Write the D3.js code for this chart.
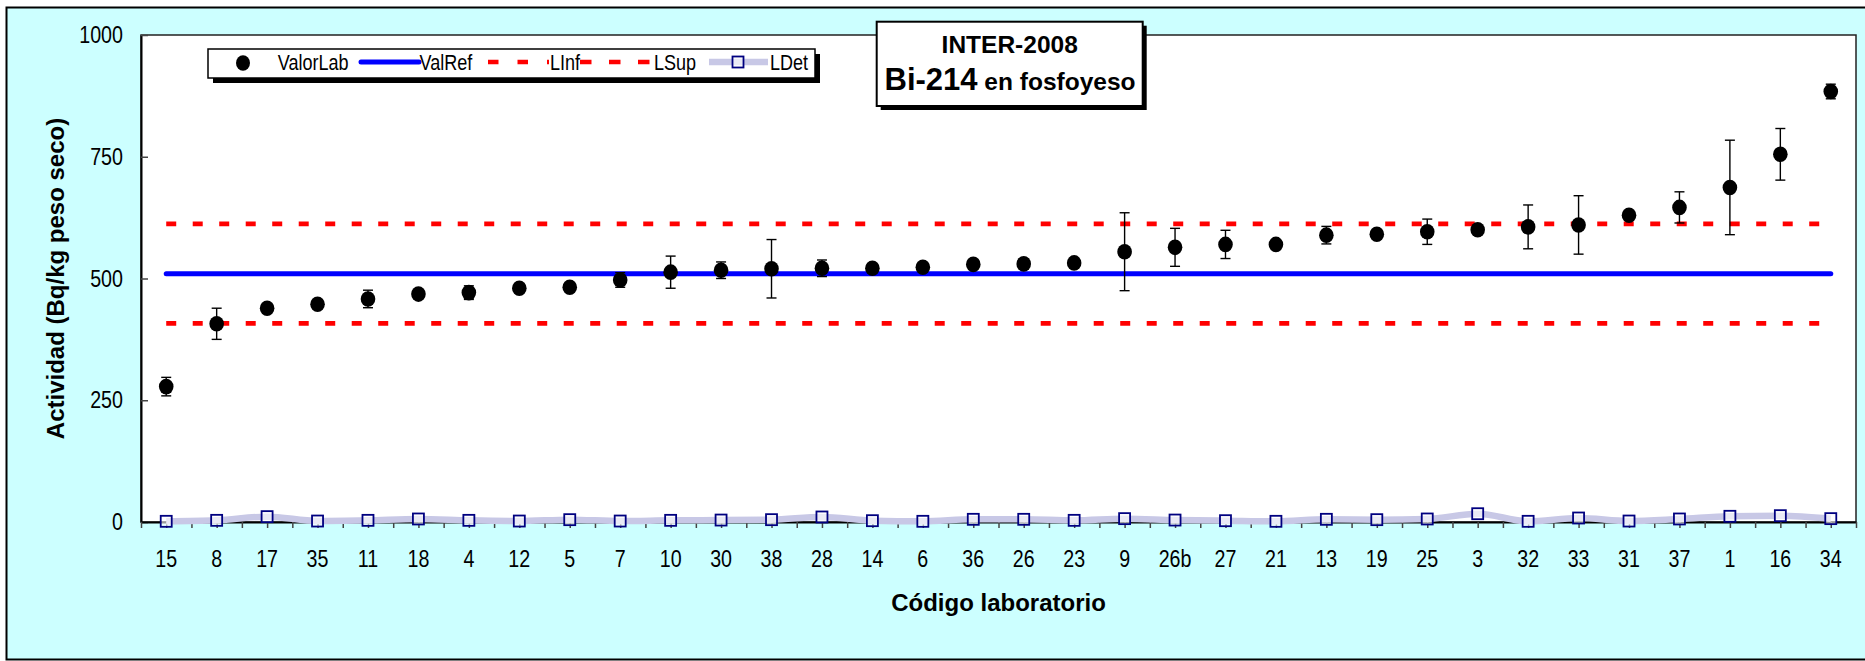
<!DOCTYPE html>
<html>
<head>
<meta charset="utf-8">
<script src="https://cdn.jsdelivr.net/npm/d3@7"></script>
<style>
  html, body { margin: 0; padding: 0; background: #ffffff; }
  svg { display: block; }
</style>
</head>
<body>
<div id="chart"></div>
<script>
// ---------- data ----------
const categories = ["15","8","17","35","11","18","4","12","5","7","10","30","38","28","14","6","36","26","23","9","26b","27","21","13","19","25","3","32","33","31","37","1","16","34"];
const valorLab   = [278, 407, 439, 447, 458, 468, 471, 480, 482, 497, 513, 517, 520, 521, 521, 523, 529, 530, 532, 555, 564, 570, 570, 589, 591, 596, 600, 606, 610, 630, 646, 687, 755, 884];
const uncert     = [19, 32, 8, 8, 18, 8, 14, 8, 8, 15, 33, 17, 60, 17, 8, 8, 8, 10, 8, 80, 39, 29, 8, 18, 8, 26, 8, 45, 60, 8, 32, 97, 53, 15];
const lDet       = [1.4, 3.4, 11, 2, 3.4, 6.2, 3.4, 2, 4.8, 2, 3.4, 4, 4.8, 10.3, 2.7, 1.4, 5.5, 5.5, 3.4, 6.9, 4, 2.7, 1.4, 5.5, 4.8, 6.2, 17, 1.4, 8.2, 2, 6.2, 11.7, 13, 6.9];
const valRef = 510;
const lInf = 408;
const lSup = 612;
const yTicks = [0, 250, 500, 750, 1000];
const legendLabels = ["ValorLab", "ValRef", "LInf", "LSup", "LDet"];
const titleLine1 = "INTER-2008";
const titleBig = "Bi-214";
const titleSmall = " en fosfoyeso";
const yTitle = "Actividad (Bq/kg peso seco)";
const xTitle = "Código laboratorio";

// ---------- fonts ----------
function hasFont(f) {
  const c = document.createElement("canvas").getContext("2d");
  const s = "ValorLab 1000 26b";
  c.font = "40px monospace";
  const a = c.measureText(s).width;
  c.font = `40px '${f}', monospace`;
  return c.measureText(s).width !== a;
}
const NARROW_OK = hasFont("Liberation Sans Narrow") || hasFont("Arial Narrow");
const NARROW = NARROW_OK ? "'Liberation Sans Narrow','Arial Narrow',sans-serif" : "'Liberation Sans',Arial,sans-serif";
const SX = NARROW_OK ? 1 : 0.82;
// condense text horizontally (emulates Arial Narrow when it is missing)
function narrow(sel) {
  sel.each(function () {
    const t = d3.select(this);
    const xv = parseFloat(t.attr("x")) || 0;
    t.attr("font-family", NARROW);
    if (SX !== 1) {
      t.attr("x", xv / SX);
      const tr = t.attr("transform");
      t.attr("transform", (tr ? tr + " " : "") + `scale(${SX},1)`);
    }
  });
}
const BOLD = "'Liberation Sans',Arial,sans-serif";

// ---------- layout ----------
const W = 1865, H = 661;
const P = { left: 141, right: 1856, top: 35, bottom: 522 };

const svg = d3.select("#chart").append("svg")
  .attr("width", W).attr("height", H);

// outer chart area
svg.append("rect")
  .attr("x", 6.5).attr("y", 7.5).attr("width", 1870).attr("height", 652)
  .attr("fill", "#CCFFFF").attr("stroke", "#000").attr("stroke-width", 2);

// plot area
svg.append("rect")
  .attr("x", P.left).attr("y", P.top)
  .attr("width", P.right - P.left).attr("height", P.bottom - P.top)
  .attr("fill", "#ffffff").attr("stroke", "#222").attr("stroke-width", 1.5);

const x = d3.scaleBand().domain(categories).range([P.left, P.right]).padding(0);
const y = d3.scaleLinear().domain([0, 1000]).range([P.bottom, P.top]);
const cx = (d) => x(d) + x.bandwidth() / 2;

// ---------- axes ----------
const yAxis = svg.append("g")
  .attr("transform", `translate(${P.left},0)`)
  .call(d3.axisLeft(y).tickValues(yTicks).tickFormat(d3.format("d"))
    .tickSizeInner(-7).tickSizeOuter(0).tickPadding(18));
yAxis.select(".domain").attr("stroke", "#000").attr("stroke-width", 2);
yAxis.selectAll(".tick line").attr("stroke", "#444").attr("stroke-width", 1.5);
yAxis.selectAll(".tick text").attr("font-size", 24).attr("fill", "#000").call(narrow);

// x tick marks at every half category
const halfIdx = d3.range(0, categories.length + 0.5, 0.5);
const xi = d3.scaleLinear().domain([0, categories.length]).range([P.left, P.right]);
const xTicksG = svg.append("g")
  .attr("transform", `translate(0,${P.bottom})`)
  .call(d3.axisBottom(xi).tickValues(halfIdx).tickFormat("").tickSizeInner(6).tickSizeOuter(0));
xTicksG.select(".domain").attr("stroke", "#000").attr("stroke-width", 2);
xTicksG.selectAll(".tick line").attr("stroke", "#444").attr("stroke-width", 1.5);

const xAxis = svg.append("g")
  .attr("transform", `translate(0,${P.bottom})`)
  .call(d3.axisBottom(x).tickSize(0).tickPadding(28));
xAxis.select(".domain").remove();
xAxis.selectAll(".tick text").attr("font-size", 24).attr("fill", "#000").call(narrow);

// axis titles
svg.append("text")
  .attr("transform", `translate(56,278.5) rotate(-90)`)
  .attr("text-anchor", "middle").attr("dy", "0.35em")
  .attr("font-family", BOLD).attr("font-weight", "bold").attr("font-size", 24)
  .text(yTitle);
svg.append("text")
  .attr("x", (P.left + P.right) / 2).attr("y", 603)
  .attr("text-anchor", "middle").attr("dy", "0.35em")
  .attr("font-family", BOLD).attr("font-weight", "bold").attr("font-size", 24)
  .text(xTitle);

// ---------- LDet series ----------
const detData = categories.map((c, i) => ({ c, v: lDet[i] }));
svg.append("path")
  .datum(detData)
  .attr("d", d3.line().x(d => cx(d.c)).y(d => y(d.v)).curve(d3.curveMonotoneX))
  .attr("fill", "none").attr("stroke", "#C8C8E6").attr("stroke-width", 6.5);
svg.append("g").selectAll("rect")
  .data(detData).join("rect")
  .attr("x", d => cx(d.c) - 5.5).attr("y", d => y(d.v) - 5.5)
  .attr("width", 11).attr("height", 11)
  .attr("fill", "#ffffff").attr("fill-opacity", 0.6)
  .attr("stroke", "#000080").attr("stroke-width", 1.8);

// ---------- reference lines ----------
const first = categories[0], last = categories[categories.length - 1];
svg.append("line")
  .attr("x1", cx(first)).attr("x2", cx(last)).attr("y1", y(valRef)).attr("y2", y(valRef))
  .attr("stroke", "#0000FF").attr("stroke-width", 5).attr("stroke-linecap", "round");
[lInf, lSup].forEach(v => {
  svg.append("line")
    .attr("x1", cx(first)).attr("x2", cx(last)).attr("y1", y(v)).attr("y2", y(v))
    .attr("stroke", "#FF0000").attr("stroke-width", 4.7).attr("stroke-dasharray", "10,16.5");
});

// ---------- ValorLab with error bars ----------
const labData = categories.map((c, i) => ({ c, v: valorLab[i], u: uncert[i] }));
const eb = svg.append("g").attr("stroke", "#000").attr("stroke-width", 1.4).attr("fill", "none");
labData.forEach(d => {
  const X = cx(d.c), y1 = y(d.v + d.u), y2 = y(d.v - d.u);
  eb.append("line").attr("x1", X).attr("x2", X).attr("y1", y1).attr("y2", y2);
  eb.append("line").attr("x1", X - 5).attr("x2", X + 5).attr("y1", y1).attr("y2", y1);
  eb.append("line").attr("x1", X - 5).attr("x2", X + 5).attr("y1", y2).attr("y2", y2);
});
svg.append("g").selectAll("ellipse")
  .data(labData).join("ellipse")
  .attr("cx", d => cx(d.c)).attr("cy", d => y(d.v))
  .attr("rx", 7.3).attr("ry", 7.8).attr("fill", "#000");

// ---------- legend ----------
const lg = svg.append("g");
lg.append("rect").attr("x", 213).attr("y", 54).attr("width", 607).attr("height", 29).attr("fill", "#000");
lg.append("rect").attr("x", 208).attr("y", 49).attr("width", 607).attr("height", 29)
  .attr("fill", "#fff").attr("stroke", "#000").attr("stroke-width", 1.5);
const LY = 62;
lg.append("ellipse").attr("cx", 243).attr("cy", LY + 1).attr("rx", 7).attr("ry", 7.8).attr("fill", "#000");
lg.append("line").attr("x1", 361).attr("x2", 419).attr("y1", LY).attr("y2", LY)
  .attr("stroke", "#0000FF").attr("stroke-width", 5).attr("stroke-linecap", "round");
lg.append("line").attr("x1", 488).attr("x2", 549).attr("y1", LY).attr("y2", LY)
  .attr("stroke", "#FF0000").attr("stroke-width", 4.7).attr("stroke-dasharray", "10.5,19");
lg.append("line").attr("x1", 580).attr("x2", 652).attr("y1", LY).attr("y2", LY)
  .attr("stroke", "#FF0000").attr("stroke-width", 4.7).attr("stroke-dasharray", "11.5,17.5");
lg.append("line").attr("x1", 709).attr("x2", 768).attr("y1", LY).attr("y2", LY)
  .attr("stroke", "#C8C8E6").attr("stroke-width", 6.5);
lg.append("rect").attr("x", 738 - 5.5).attr("y", LY - 5.5).attr("width", 11).attr("height", 11)
  .attr("fill", "#fff").attr("fill-opacity", 0.6).attr("stroke", "#000080").attr("stroke-width", 1.8);
const legX = [277.7, 419.6, 550, 654, 770];
legendLabels.forEach((t, i) => {
  lg.append("text").attr("x", legX[i]).attr("y", 70)
    .attr("font-size", 22).attr("fill", "#000").text(t).call(narrow);
});

// ---------- title box ----------
const tb = svg.append("g");
tb.append("rect").attr("x", 880.7).attr("y", 25.7).attr("width", 266).attr("height", 84.3).attr("fill", "#000");
tb.append("rect").attr("x", 876.7).attr("y", 21.7).attr("width", 266).attr("height", 84.3)
  .attr("fill", "#fff").attr("stroke", "#000").attr("stroke-width", 2);
tb.append("text").attr("x", 1009.7).attr("y", 53.3).attr("text-anchor", "middle")
  .attr("font-family", BOLD).attr("font-weight", "bold").attr("font-size", 24.5).text(titleLine1);
const t2 = tb.append("text").attr("x", 1010).attr("y", 90).attr("text-anchor", "middle")
  .attr("font-family", BOLD).attr("font-weight", "bold");
t2.append("tspan").attr("font-size", 31).text(titleBig);
t2.append("tspan").attr("font-size", 24.5).text(titleSmall);
</script>
</body>
</html>
